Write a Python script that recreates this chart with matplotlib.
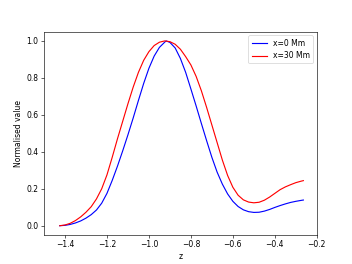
import matplotlib
matplotlib.use("Agg")
import matplotlib.pyplot as plt

# normalised profiles along z
z_x0 = [-1.425, -1.40, -1.375, -1.35, -1.325, -1.30, -1.275, -1.25, -1.225, -1.20,
        -1.175, -1.15, -1.125, -1.10, -1.075, -1.05, -1.025, -1.00, -0.975, -0.95,
        -0.925, -0.918, -0.90, -0.875, -0.85, -0.825, -0.80, -0.775, -0.75, -0.725,
        -0.70, -0.675, -0.65, -0.625, -0.60, -0.575, -0.55, -0.525, -0.50, -0.475,
        -0.45, -0.425, -0.40, -0.375, -0.35, -0.325, -0.30, -0.275, -0.264]
v_x0 = [0.000, 0.002, 0.007, 0.015, 0.026, 0.041, 0.060, 0.085, 0.122, 0.175,
        0.245, 0.322, 0.405, 0.492, 0.583, 0.678, 0.770, 0.852, 0.918, 0.965,
        0.993, 1.000, 0.992, 0.962, 0.905, 0.830, 0.740, 0.648, 0.553, 0.460,
        0.370, 0.290, 0.225, 0.172, 0.132, 0.104, 0.086, 0.076, 0.072, 0.073,
        0.079, 0.088, 0.099, 0.109, 0.118, 0.126, 0.132, 0.137, 0.139]

z_x30 = [-1.425, -1.40, -1.375, -1.35, -1.325, -1.30, -1.275, -1.25, -1.225, -1.20,
         -1.175, -1.15, -1.125, -1.10, -1.075, -1.05, -1.025, -1.00, -0.975, -0.95,
         -0.925, -0.90, -0.875, -0.85, -0.825, -0.80, -0.775, -0.75, -0.725, -0.70,
         -0.675, -0.65, -0.625, -0.60, -0.575, -0.55, -0.525, -0.50, -0.475, -0.45,
         -0.425, -0.40, -0.375, -0.35, -0.325, -0.30, -0.275, -0.264]
v_x30 = [0.000, 0.004, 0.013, 0.028, 0.048, 0.073, 0.103, 0.145, 0.200, 0.275,
         0.370, 0.470, 0.565, 0.660, 0.750, 0.830, 0.895, 0.942, 0.975, 0.993,
         1.000, 0.996, 0.982, 0.955, 0.915, 0.870, 0.808, 0.730, 0.640, 0.545,
         0.450, 0.355, 0.272, 0.208, 0.165, 0.140, 0.128, 0.124, 0.127, 0.138,
         0.155, 0.175, 0.195, 0.210, 0.222, 0.233, 0.241, 0.244]

fig, ax = plt.subplots(figsize=(6.4, 4.8), dpi=55)
ax.plot(z_x0, v_x0, color='b', label='x=0 Mm')
ax.plot(z_x30, v_x30, color='r', label='x=30 Mm')
ax.set_xlim(-1.5, -0.2)
ax.set_xlabel('z')
ax.set_ylabel('Normalised value')
ax.legend(loc='upper right')

fig.savefig('out.png', dpi=55)
